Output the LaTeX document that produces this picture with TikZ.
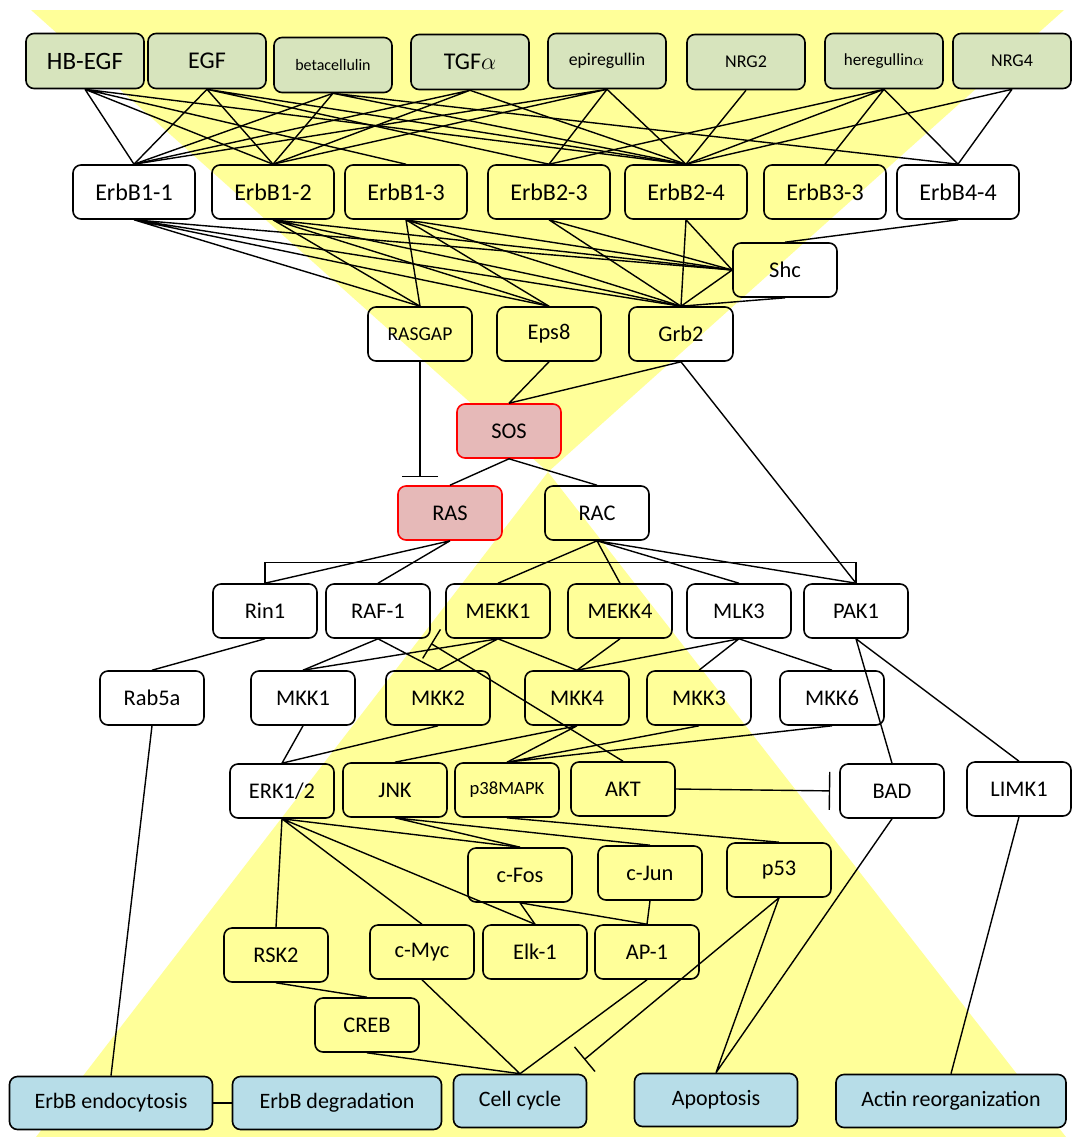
\documentclass[tikz,border=0pt]{standalone}
\usepackage{fontspec}
\setmainfont{Carlito}
\usetikzlibrary{arrows.meta}
\definecolor{bgyellow}{RGB}{255,255,153}
\definecolor{ligandgreen}{RGB}{215,228,189}
\definecolor{raspink}{RGB}{230,185,184}
\definecolor{outblue}{RGB}{183,221,232}
\newcommand{\fsz}[1]{\fontsize{#1pt}{#1pt}\selectfont}

\begin{document}
\begin{tikzpicture}[x=0.5pt,y=-0.5pt,line width=0.7pt,
    box/.style={draw,rounded corners=4pt,line width=0.8pt,minimum width=52pt,minimum height=27pt,inner sep=1pt,font=\fsz{11.2}},
    ligand/.style={box,fill=ligandgreen,minimum width=59pt,minimum height=27.5pt},
    receptor/.style={box,minimum width=61pt,font=\fsz{12}},
    rasbox/.style={box,fill=raspink,draw=red},
    outcome/.style={box,fill=outblue,minimum height=26.5pt,font=\fsz{11}},
    inhibit/.style={-{Bar[width=18pt]},shorten >=4pt}]

      \useasboundingbox (0,0) rectangle (1073,1137);
      \fill[white] (0,0) rectangle (1073,1137);
      \fill[bgyellow] (31,10) -- (1064,10) -- (548,472) -- cycle;
      \fill[bgyellow] (548,472) -- (1066,1137) -- (36,1137) -- cycle;

      \node[ligand,font=\fsz{12.5}] (hbegf) at (85,61) {HB-EGF};
      \node[ligand,font=\fsz{12}] (egf) at (207,61) {EGF};
      \node[ligand,font=\fsz{8}] (btc) at (333,65) {betacellulin};
      \node[ligand,font=\fsz{12}] (tgfa) at (470,62) {TGF$\alpha$};
      \node[ligand,font=\fsz{8.9}] (epr) at (607,61) {epiregullin};
      \node[ligand,font=\fsz{9}] (nrgtwo) at (746,62) {NRG2};
      \node[ligand,font=\fsz{8.5}] (hrg) at (884,61) {heregullin$\alpha$};
      \node[ligand,font=\fsz{9}] (nrgfour) at (1012,61) {NRG4};

      \node[receptor] (e11) at (134,192) {ErbB1-1};
      \node[receptor] (e12) at (273,192) {ErbB1-2};
      \node[receptor] (e13) at (406,192) {ErbB1-3};
      \node[receptor] (e23) at (549,192) {ErbB2-3};
      \node[receptor] (e24) at (686,192) {ErbB2-4};
      \node[receptor] (e33) at (825,192) {ErbB3-3};
      \node[receptor] (e44) at (958,192) {ErbB4-4};

      \node[box] (shc) at (785,270) {Shc};
      \node[box,font=\fsz{9.8}] (rasgap) at (420,334) {RASGAP};
      \node[box] (eps8) at (549,334) {Eps8};
      \node[box] (grb2) at (681,334) {Grb2};
      \node[rasbox] (sos) at (509,431) {SOS};
      \node[rasbox] (ras) at (450,513) {RAS};
      \node[box] (rac) at (597,513) {RAC};

      \node[box] (rin1) at (265,611) {Rin1};
      \node[box] (raf1) at (378,611) {RAF-1};
      \node[box] (mekk1) at (498,611) {MEKK1};
      \node[box] (mekk4) at (620,611) {MEKK4};
      \node[box] (mlk3) at (739,611) {MLK3};
      \node[box] (pak1) at (856,611) {PAK1};

      \node[box] (rab5a) at (152,698) {Rab5a};
      \node[box] (mkk1) at (303,698) {MKK1};
      \node[box] (mkk2) at (438,698) {MKK2};
      \node[box] (mkk4) at (577,698) {MKK4};
      \node[box] (mkk3) at (699,698) {MKK3};
      \node[box] (mkk6) at (832,698) {MKK6};

      \node[box] (erk) at (282,791) {ERK1/2};
      \node[box] (jnk) at (395,790) {JNK};
      \node[box,font=\fsz{9.3}] (p38) at (507,790) {p38MAPK};
      \node[box] (akt) at (623,789) {AKT};
      \node[box] (bad) at (892,791) {BAD};
      \node[box] (limk1) at (1019,789) {LIMK1};

      \node[box] (cfos) at (520,875) {c-Fos};
      \node[box] (cjun) at (650,873) {c-Jun};
      \node[box] (p53) at (779,870) {p53};
      \node[box] (rsk2) at (276,955) {RSK2};
      \node[box] (cmyc) at (422,952) {c-Myc};
      \node[box] (elk1) at (535,952) {Elk-1};
      \node[box] (ap1) at (647,952) {AP-1};
      \node[box] (creb) at (367,1025) {CREB};

      \node[outcome,minimum width=101.5pt] (endo) at (111,1103) {ErbB endocytosis};
      \node[outcome,minimum width=104.5pt] (degr) at (337,1103) {ErbB degradation};
      \node[outcome,minimum width=66.5pt] (cycle) at (520,1101) {Cell cycle};
      \node[outcome,minimum width=81.5pt] (apop) at (716,1100) {Apoptosis};
      \node[outcome,minimum width=115pt] (actin) at (951,1101) {Actin reorganization};

      \draw (hbegf.south) -- (e11.north) (hbegf.south) -- (e12.north) (hbegf.south) -- (e13.north) (hbegf.south) -- (e24.north);
      \draw (egf.south) -- (e11.north) (egf.south) -- (e12.north) (egf.south) -- (e23.north) (egf.south) -- (e24.north);
      \draw (btc.south) -- (e11.north) (btc.south) -- (e12.north) (btc.south) -- (e24.north) (btc.south) -- (e44.north);
      \draw (tgfa.south) -- (e11.north) (tgfa.south) -- (e12.north) (tgfa.south) -- (e24.north);
      \draw (epr.south) -- (e11.north) (epr.south) -- (e12.north) (epr.south) -- (e23.north) (epr.south) -- (e24.north);
      \draw (nrgtwo.south) -- (e24.north);
      \draw (hrg.south) -- (e23.north) (hrg.south) -- (e24.north) (hrg.south) -- (e33.north) (hrg.south) -- (e44.north);
      \draw (nrgfour.south) -- (e24.north) (nrgfour.south) -- (e44.north);

      \draw (e11.south) -- (rasgap.north) (e11.south) -- (eps8.north) (e11.south) -- (grb2.north) (e11.south) -- (shc.west);
      \draw (e12.south) -- (rasgap.north) (e12.south) -- (eps8.north) (e12.south) -- (grb2.north) (e12.south) -- (shc.west);
      \draw (e13.south) -- (rasgap.north) (e13.south) -- (eps8.north) (e13.south) -- (grb2.north) (e13.south) -- (shc.west);
      \draw (e23.south) -- (grb2.north) (e23.south) -- (shc.west);
      \draw (e24.south) -- (grb2.north) (e24.south) -- (shc.west);
      \draw (e44.south) -- (shc.north);
      \draw (shc.west) -- (grb2.north) (shc.south) -- (grb2.north);

      \draw (eps8.south) -- (sos.north) (grb2.south) -- (sos.north);
      \draw (grb2.south) -- (pak1.north);
      \draw[inhibit] (rasgap.south) -- (rasgap.south |- ras.north);
      \draw (sos.south) -- (ras.north) (sos.south) -- (rac.north);

      \draw (rin1.north) -- ++(0,-21) -| (pak1.north);
      \draw (ras.south) -- (rin1.north) (ras.south) -- (raf1.north);
      \draw (rac.south) -- (mekk1.north) (rac.south) -- (mekk4.north) (rac.south) -- (mlk3.north) (rac.south) -- (pak1.north);

      \draw (rin1.south) -- (rab5a.north);
      \draw (raf1.south) -- (mkk1.north) (raf1.south) -- (mkk2.north);
      \draw (mekk1.south) -- (mkk1.north) (mekk1.south) -- (mkk2.north) (mekk1.south) -- (mkk4.north);
      \draw (mekk4.south) -- (mkk4.north);
      \draw (mlk3.south) -- (mkk4.north) (mlk3.south) -- (mkk3.north) (mlk3.south) -- (mkk6.north);
      \draw (pak1.south) -- (bad.north) (pak1.south) -- (limk1.north);
      \draw[inhibit,shorten >=4.5pt,-{Bar[width=17pt]}] (akt.north) -- (raf1);

      \draw (mkk1.south) -- (erk.north) (mkk2.south) -- (erk.north);
      \draw (mkk4.south) -- (jnk.north) (mkk4.south) -- (p38.north);
      \draw (mkk3.south) -- (p38.north) (mkk6.south) -- (p38.north);
      \draw[inhibit,-{Bar[width=19pt]},shorten >=4.5pt] (akt.east) -- (bad.west);

      \draw (erk.south) -- (rsk2.north) (erk.south) -- (cmyc.north) (erk.south) -- (elk1.north) (erk.south) -- (cfos.north);
      \draw (jnk.south) -- (cfos.north) (jnk.south) -- (cjun.north);
      \draw (p38.south) -- (p53.north);
      \draw (cfos.south) -- (elk1.north) (cfos.south) -- (ap1.north) (cjun.south) -- (ap1.north);
      \draw (rsk2.south) -- (creb.north);

      \draw (cmyc.south) -- (cycle.north) (creb.south) -- (cycle.north) (ap1.south) -- (cycle.north);
      \draw[inhibit,-{Bar[width=16pt]},shorten >=11pt] (p53.south) -- ([xshift=-10pt]cycle.north east);
      \draw (p53.south) -- (apop.north) (bad.south) -- (apop.north);
      \draw (limk1.south) -- (actin.north);
      \draw (rab5a.south) -- (endo.north);
      \draw (endo.east) -- (degr.west);

    \end{tikzpicture}
\end{document}
